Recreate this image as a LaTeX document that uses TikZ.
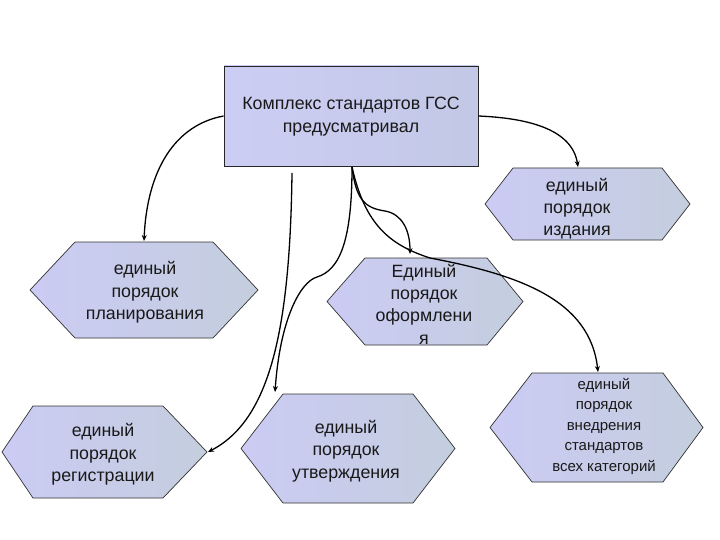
\documentclass[tikz,border=0pt]{standalone}
\usepackage{fontspec}
\setmainfont{Liberation Sans}
\usetikzlibrary{arrows.meta}
\definecolor{lavL}{HTML}{CBCBF4}
\definecolor{lavR}{HTML}{C4CEDE}
\definecolor{boxL}{HTML}{CCCDF4}
\definecolor{boxR}{HTML}{C3C8E6}
\newcommand\hexpath[7]{%
  \path[hexst] (#2,{(#6+#7)/2}) -- (#3,#6) -- (#4,#6) -- (#5,{(#6+#7)/2}) -- (#4,#7) -- (#3,#7) -- cycle;
  \coordinate (#1-top) at ({(#3+#4)/2},#6);
  \coordinate (#1-east) at (#5,{(#6+#7)/2});
}
\tikzset{
  hexst/.style={draw=black!80, line width=0.7pt, left color=lavL, right color=lavR},
  boxst/.style={draw=black!85, line width=0.9pt, left color=boxL, right color=boxR, minimum width=254pt, minimum height=100pt, inner sep=0pt},
  txt/.style={align=center, font=\fontsize{17.8}{22.3}\selectfont, text=black!90, inner sep=0pt},
  smalltxt/.style={align=center, font=\fontsize{15}{20.5}\selectfont, text=black!90, inner sep=0pt},
  conn/.style={line width=1.3pt, -{Stealth[length=6pt,width=5pt]}}
}
\begin{document}
\begin{tikzpicture}[x=1pt,y=-1pt]
\useasboundingbox (0,0) rectangle (720,540);
\fill[white] (0,0) rectangle (720,540);
% main box
\node[boxst] (box) at (351,116) {};
\node[txt] (boxtext) at (351,116.5) {Комплекс стандартов ГСС\\предусматривал};
% hexagons
\hexpath{izd}{485}{513}{662}{690}{168}{240}
\hexpath{plan}{30}{75}{213}{258}{242}{338}
\hexpath{oform}{327}{365}{487}{523}{258}{345}
\hexpath{reg}{2}{33}{163}{207}{406}{498}
\hexpath{utv}{241}{283}{413}{455}{394}{503}
\hexpath{vned}{490}{532}{663}{703}{373}{482}
\node[txt] (izdt) at (577,208.5) {единый\\порядок\\издания};
\node[txt] (plant) at (145,292.5) {единый\\порядок\\планирования};
\node[txt] (oformt) at (424,304) {Единый\\порядок\\оформлени\\я};
\node[txt] (regt) at (103,454.5) {единый\\порядок\\регистрации};
\node[txt] (utvt) at (346,451) {единый\\порядок\\утверждения};
\node[smalltxt] (vnedt) at (604,426) {единый\\порядок\\внедрения\\стандартов\\всех категорий};
% connector start points
\coordinate (s1) at (292,173);
\coordinate (s2) at (352,167);
\coordinate (pa) at (144,241);
\coordinate (pb) at (578,167);
\coordinate (pc) at (208,452);
\coordinate (pd) at (275,392);
\coordinate (pe) at (410,254);
\coordinate (pf) at (598,372);
% connectors
\draw[conn] (box.west) .. controls (175,125) and (147,170) .. (pa);
\draw[conn] (box.east) .. controls (525,118) and (572,128) .. (pb);
\draw[conn] (s1) .. controls (290,330) and (270,420) .. (pc);
\draw[conn] (s2) .. controls (352,240) and (340,270) .. (317,277) .. controls (300,282) and (280,320) .. (pd);
\draw[conn] (s2) .. controls (356,200) and (365,208) .. (385,211) .. controls (402,214) and (410,230) .. (pe);
\draw[conn] (s2) .. controls (365,225) and (390,245) .. (430,258) .. controls (520,275) and (590,300) .. (pf);
\end{tikzpicture}
\end{document}
